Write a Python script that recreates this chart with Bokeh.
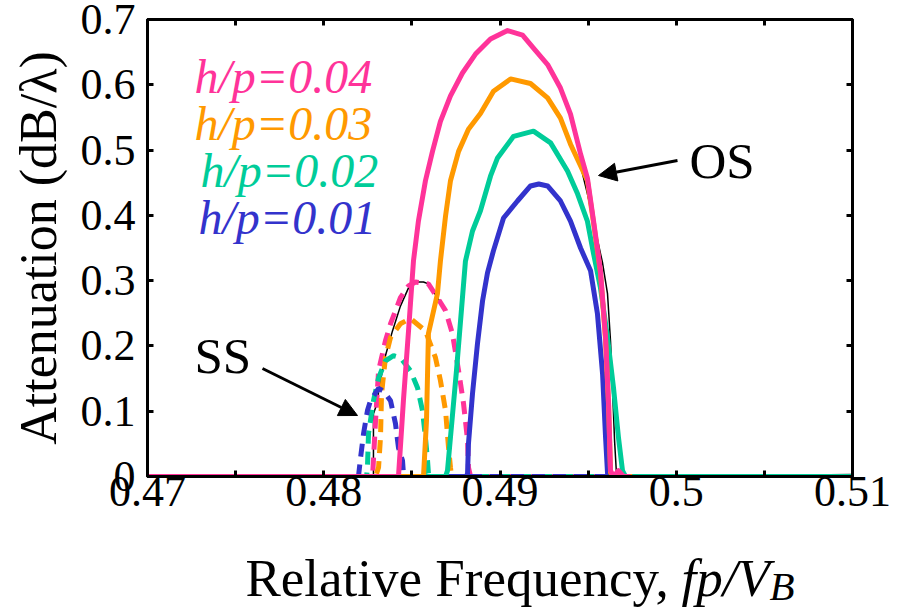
import numpy as np
from bokeh.plotting import figure
from bokeh.layouts import column
from bokeh.models import Range1d, FixedTicker, LinearAxis, Label, Arrow, NormalHead
from bokeh.embed import file_html
from bokeh.resources import INLINE

# ---------------- data ----------------
x_ticks = [0.47, 0.48, 0.49, 0.5, 0.51]
x_tick_labels = ["0.47", "0.48", "0.49", "0.5", "0.51"]
x_minor = [0.475, 0.485, 0.495, 0.505]
y_ticks = [0, 0.1, 0.2, 0.3, 0.4, 0.5, 0.6, 0.7]
y_tick_labels = ["0", "0.1", "0.2", "0.3", "0.4", "0.5", "0.6", "0.7"]

series_names = ["h/p=0.04", "h/p=0.03", "h/p=0.02", "h/p=0.01"]
colors = ["#FF3399", "#FF9900", "#00CC99", "#3333CC"]

# OS (solid) curves
os04_f = [0.47, 0.48424, 0.48452, 0.48481, 0.48509, 0.48537, 0.48577, 0.48617, 0.48662, 0.48719,
          0.48787, 0.48861, 0.48946, 0.49043, 0.49128, 0.49190, 0.49270, 0.49343, 0.49400, 0.49457,
          0.49496, 0.49531, 0.49570, 0.49599, 0.49616, 0.49627, 0.49644, 0.49672, 0.49701, 0.49740]
os04_a = [0, 0, 0.116, 0.223, 0.330, 0.391, 0.453, 0.498, 0.544, 0.583,
          0.618, 0.647, 0.670, 0.683, 0.676, 0.656, 0.631, 0.595, 0.555, 0.494,
          0.457, 0.391, 0.315, 0.213, 0.112, 0.009, 0, 0.009, 0, 0]

os03_f = [0.47, 0.48566, 0.48583, 0.48594, 0.48645, 0.48662, 0.48691, 0.48719, 0.48765, 0.48821,
          0.48889, 0.48963, 0.49060, 0.49173, 0.49270, 0.49343, 0.49400, 0.49457, 0.49496, 0.49531,
          0.49570, 0.49599, 0.49616, 0.49627, 0.49644, 0.4975]
os03_a = [0, 0, 0.086, 0.219, 0.280, 0.330, 0.399, 0.453, 0.498, 0.532,
          0.556, 0.590, 0.609, 0.602, 0.580, 0.549, 0.509, 0.476, 0.453, 0.388,
          0.312, 0.209, 0.109, 0.006, 0, 0]

os02_f = [0.47, 0.48691, 0.48702, 0.48753, 0.48804, 0.48844, 0.48889, 0.48946, 0.48986, 0.49077,
          0.49190, 0.49287, 0.49383, 0.49440, 0.49496, 0.49531, 0.49570, 0.49610, 0.49644, 0.49672,
          0.49695, 0.49712, 0.51]
os02_a = [0, 0, 0.009, 0.162, 0.330, 0.376, 0.407, 0.460, 0.488, 0.521,
          0.529, 0.511, 0.468, 0.433, 0.391, 0.341, 0.289, 0.213, 0.136, 0.060,
          0.009, 0, 0]

os01_f = [0.47, 0.48810, 0.48816, 0.48821, 0.48844, 0.48872, 0.48901, 0.48929, 0.48963, 0.49020,
          0.49099, 0.49173, 0.49220, 0.49270, 0.49343, 0.49400, 0.49457, 0.49514, 0.49553, 0.49582,
          0.49599, 0.49610, 0.49622, 0.49797]
os01_a = [0, 0, 0.005, 0.050, 0.127, 0.203, 0.269, 0.312, 0.346, 0.396,
          0.422, 0.445, 0.448, 0.445, 0.422, 0.391, 0.350, 0.315, 0.249, 0.157,
          0.060, 0.005, 0, 0]

# SS (dashed) curves
ss04_f = [0.47, 0.48277, 0.48294, 0.48311, 0.48350, 0.48379, 0.48435, 0.48481, 0.48521, 0.48594,
          0.48645, 0.48691, 0.48730, 0.48765, 0.48793, 0.48816, 0.48821, 0.48833, 0.51]
ss04_a = [0, 0, 0.086, 0.162, 0.208, 0.234, 0.274, 0.292, 0.298, 0.295,
          0.274, 0.254, 0.219, 0.162, 0.112, 0.055, 0.014, 0, 0]

ss03_f = [0.47, 0.48294, 0.48311, 0.48322, 0.48328, 0.48350, 0.48379, 0.48435, 0.48492, 0.48577,
          0.48634, 0.48662, 0.48691, 0.48708, 0.48719, 0.48725, 0.51]
ss03_a = [0, 0, 0.014, 0.060, 0.127, 0.182, 0.213, 0.234, 0.242, 0.223,
          0.182, 0.147, 0.101, 0.044, 0.014, 0, 0]

ss02_f = [0.47, 0.48243, 0.48248, 0.48254, 0.48282, 0.48311, 0.48350, 0.48396, 0.48435, 0.48492,
          0.48532, 0.48560, 0.48577, 0.48589, 0.48594, 0.48600, 0.51]
ss02_a = [0, 0, 0.014, 0.066, 0.116, 0.151, 0.177, 0.185, 0.182, 0.162,
          0.136, 0.101, 0.060, 0.024, 0.005, 0, 0]

ss01_f = [0.47, 0.48197, 0.48209, 0.48226, 0.48248, 0.48265, 0.48311, 0.48339, 0.48379, 0.48407,
          0.48424, 0.48447, 0.48452, 0.48458, 0.51]
ss01_a = [0, 0, 0.029, 0.066, 0.101, 0.116, 0.135, 0.131, 0.116, 0.081,
          0.044, 0.024, 0.005, 0, 0]

# thin black reference line (two pieces, gap = NaN)
ref_f = [0.48152, 0.48282, 0.48282, 0.48299, 0.48322, 0.48350, 0.48390, 0.48435, 0.48481, 0.48509,
         0.48566, 0.48594, 0.48645, 0.48691, np.nan,
         0.49343, 0.49417, 0.49457, 0.49496, 0.49542, 0.49582, 0.49610, 0.49627, 0.49638, 0.49650,
         0.49661, 0.49797, 0.51]
ref_a = [0, 0, 0.096, 0.109, 0.147, 0.185, 0.223, 0.261, 0.289, 0.298,
         0.298, 0.295, 0.274, 0.254, np.nan,
         0.544, 0.503, 0.476, 0.433, 0.376, 0.327, 0.280, 0.208, 0.136, 0.055,
         0.003, 0, 0.003]

# ---------------- layout constants (page pixels) ----------------
FONT = "Liberation Serif"
W = 894
FRAME_L, FRAME_T, FRAME_R, FRAME_B = 147, 19, 852, 476
H1 = 532
H2 = 78
SHIFT = 18  # text box offset of Bokeh labels relative to the alphabetic baseline

p = figure(width=W, height=H1, x_range=Range1d(0.47, 0.51), y_range=Range1d(0, 0.7),
           output_backend="svg", toolbar_location=None,
           min_border_left=FRAME_L, min_border_right=W - FRAME_R,
           min_border_top=FRAME_T, min_border_bottom=H1 - FRAME_B)
p.grid.visible = False
p.outline_line_color = "black"
p.outline_line_width = 3
p.background_fill_color = "white"
p.border_fill_color = "white"


def style_axis(ax, ticker, overrides, show_labels=True):
    ax.ticker = ticker
    ax.axis_line_width = 3
    ax.axis_line_color = "black"
    ax.major_tick_in = 6
    ax.major_tick_out = 0
    ax.minor_tick_in = 6
    ax.minor_tick_out = 0
    ax.major_tick_line_width = 3
    ax.minor_tick_line_width = 3
    ax.major_label_text_font = FONT
    if show_labels:
        ax.major_label_text_color = "black"
        ax.major_label_text_font_size = "44px"
        ax.major_label_overrides = overrides
    else:
        ax.major_label_text_color = None
        ax.major_label_text_font_size = "1px"
        ax.major_label_standoff = 0


xt = FixedTicker(ticks=x_ticks, minor_ticks=x_minor)
yt = FixedTicker(ticks=y_ticks, minor_ticks=[])
xo = {t: l for t, l in zip(x_ticks, x_tick_labels)}
yo = {t: l for t, l in zip(y_ticks, y_tick_labels)}

style_axis(p.xaxis[0], xt, xo)
p.xaxis[0].major_label_standoff = 0
style_axis(p.yaxis[0], yt, yo)
p.yaxis[0].major_label_standoff = 12
p.yaxis[0].axis_label = "Attenuation (dB/λ)"
p.yaxis[0].axis_label_text_font = FONT
p.yaxis[0].axis_label_text_font_size = "52px"
p.yaxis[0].axis_label_text_font_style = "normal"
p.yaxis[0].axis_label_text_color = "black"
p.yaxis[0].axis_label_standoff = 11

top_ax = LinearAxis()
style_axis(top_ax, FixedTicker(ticks=x_ticks, minor_ticks=x_minor), {}, show_labels=False)
p.add_layout(top_ax, "above")
right_ax = LinearAxis()
style_axis(right_ax, FixedTicker(ticks=y_ticks, minor_ticks=[]), {}, show_labels=False)
p.add_layout(right_ax, "right")

# ---------------- lines ----------------
p.line(ref_f, ref_a, line_color="black", line_width=1.5)

ss = [(ss04_f, ss04_a), (ss03_f, ss03_a), (ss02_f, ss02_a), (ss01_f, ss01_a)]
for (f, a), c in zip(ss, colors):
    p.line(f, a, line_color=c, line_width=5, line_dash="13 8")

os_ = [(os01_f, os01_a, colors[3]), (os02_f, os02_a, colors[2]),
       (os03_f, os03_a, colors[1]), (os04_f, os04_a, colors[0])]
for f, a, c in os_:
    p.line(f, a, line_color=c, line_width=5, line_join="round")


# ---------------- annotations (positions in reference pixels) ----------------
def X(px):
    return 0.47 + (px - FRAME_L) / ((FRAME_R - FRAME_L) / 0.04)


def Y(py):
    return (FRAME_B - py) / ((FRAME_B - FRAME_T) / 0.7)


leg_base = [94, 141, 188, 235]
leg_left = [194, 194, 200, 198]
for name, c, by, lx in zip(series_names, colors, leg_base, leg_left):
    p.add_layout(Label(x=X(lx), y=Y(by - SHIFT), text=name, text_color=c, text_font=FONT,
                       text_font_size="48px", text_font_style="italic",
                       text_baseline="alphabetic", text_align="left"))

p.add_layout(Label(x=X(689), y=Y(178 - SHIFT), text="OS", text_font=FONT, text_font_size="51px",
                   text_color="black", text_baseline="alphabetic", text_align="left"))
p.add_layout(Label(x=X(194), y=Y(373 - SHIFT), text="SS", text_font=FONT, text_font_size="51px",
                   text_color="black", text_baseline="alphabetic", text_align="left"))

p.add_layout(Arrow(end=NormalHead(size=18, fill_color="black", line_color="black"),
                   x_start=X(677), y_start=Y(160), x_end=X(598), y_end=Y(175),
                   line_color="black", line_width=3))
p.add_layout(Arrow(end=NormalHead(size=18, fill_color="black", line_color="black"),
                   x_start=X(262), y_start=Y(368), x_end=X(357), y_end=Y(415),
                   line_color="black", line_width=3))

# ---------------- x axis title strip (second svg figure, frame aligned with p) ----------------
p2 = figure(width=W, height=H2, x_range=Range1d(0.47, 0.51), y_range=Range1d(H2, 0),
            output_backend="svg", toolbar_location=None,
            x_axis_location=None, y_axis_location=None,
            min_border_left=FRAME_L, min_border_right=W - FRAME_R,
            min_border_top=0, min_border_bottom=0)
p2.grid.visible = False
p2.outline_line_color = None
p2.background_fill_color = "white"
p2.border_fill_color = "white"

base = 595 - H1 - SHIFT
p2.add_layout(Label(x=X(245), y=base, text="Relative Frequency,", text_font=FONT,
                    text_font_size="53px", text_color="black",
                    text_baseline="alphabetic", text_align="left"))
p2.add_layout(Label(x=X(681), y=base, text="fp/V", text_font=FONT,
                    text_font_size="53px", text_font_style="italic", text_color="black",
                    text_baseline="alphabetic", text_align="left"))
p2.add_layout(Label(x=X(769), y=base + 8, text="B", text_font=FONT,
                    text_font_size="41px", text_font_style="italic", text_color="black",
                    text_baseline="alphabetic", text_align="left"))

layout = column(p, p2, spacing=0)
open("out.html", "w").write(file_html(layout, INLINE))
